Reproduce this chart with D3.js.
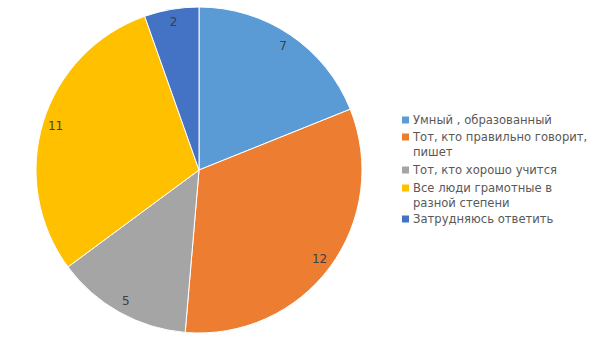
<!DOCTYPE html>
<html>
<head>
<meta charset="utf-8">
<script src="https://cdn.jsdelivr.net/npm/d3@7"></script>
<style>
  body { margin: 0; background: #fff; }
  svg { display: block; font-family: "DejaVu Sans", sans-serif; }
</style>
</head>
<body>
<div id="chart"></div>
<script>
var categories = [
    ["Умный , образованный"],
    ["Тот, кто правильно говорит,", "пишет"],
    ["Тот, кто хорошо учится"],
    ["Все люди грамотные в", "разной степени"],
    ["Затрудняюсь ответить"]
];
var values = [7, 12, 5, 11, 2];
var colors = ["#5B9BD5", "#ED7D31", "#A5A5A5", "#FFC000", "#4472C4"];

var width = 605, height = 340;
var cx = 199, cy = 170, radius = 163;

var svg = d3.select("#chart").append("svg")
    .attr("width", width)
    .attr("height", height);

var pie = d3.pie().sort(null).value(function (d) { return d; });
var arcs = pie(values);

var arc = d3.arc().innerRadius(0).outerRadius(radius);
var labelArc = d3.arc().innerRadius(radius * 0.92).outerRadius(radius * 0.92);

var g = svg.append("g").attr("transform", "translate(" + cx + "," + cy + ")");

g.selectAll("path")
    .data(arcs)
    .enter()
    .append("path")
    .attr("d", arc)
    .attr("fill", function (d, i) { return colors[i]; })
    .attr("stroke", "white")
    .attr("stroke-width", 1);

g.selectAll("text")
    .data(arcs)
    .enter()
    .append("text")
    .attr("transform", function (d) { return "translate(" + labelArc.centroid(d) + ")"; })
    .attr("text-anchor", "middle")
    .attr("dy", "0.35em")
    .style("font-size", "12px")
    .attr("fill", "#404040")
    .text(function (d) { return d.data; });

// legend
var legend = svg.append("g").attr("transform", "translate(402,0)");
var rowY = [120, 137, 170, 188, 219];

var items = legend.selectAll(".item")
    .data(categories)
    .enter()
    .append("g")
    .attr("class", "item")
    .attr("transform", function (d, i) { return "translate(0," + rowY[i] + ")"; });

items.append("rect")
    .attr("x", 0)
    .attr("y", -3.5)
    .attr("width", 7)
    .attr("height", 7)
    .attr("fill", function (d, i) { return colors[i]; });

// one text per line so wrapped lines stay apart
items.each(function (d) {
    var item = d3.select(this);
    d.forEach(function (line, j) {
        item.append("text")
            .attr("x", 11)
            .attr("y", j * 15)
            .attr("dy", "0.35em")
            .attr("fill", "#595959")
            .style("font-size", "11.6px")
            .text(line);
    });
});
</script>
</body>
</html>
